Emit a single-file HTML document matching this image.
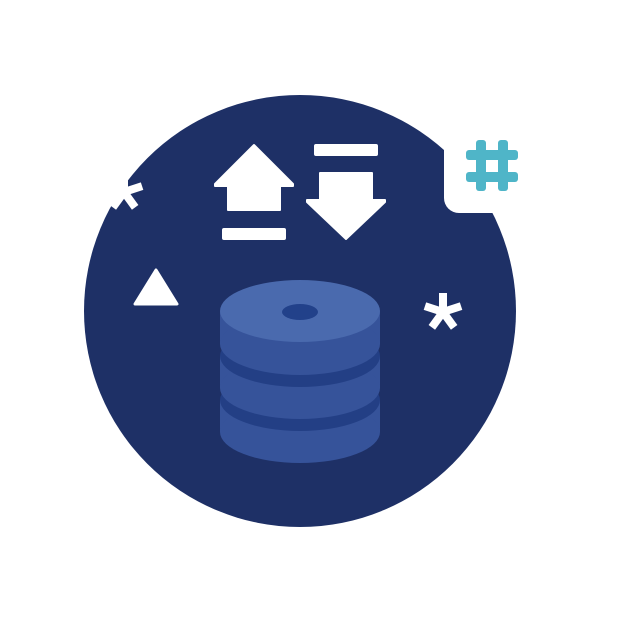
<!DOCTYPE html>
<html><head><style>html,body{margin:0;padding:0;background:#fff}svg{display:block}</style></head>
<body>
<svg width="624" height="624" viewBox="0 0 624 624" xmlns="http://www.w3.org/2000/svg">
<defs>
<g id="ast">
<rect x="-4" y="-19" width="8" height="19"/>
<rect x="-4" y="-19" width="8" height="19" transform="rotate(72)"/>
<rect x="-4" y="-19" width="8" height="19" transform="rotate(144)"/>
<rect x="-4" y="-19" width="8" height="19" transform="rotate(216)"/>
<rect x="-4" y="-19" width="8" height="19" transform="rotate(288)"/>
</g>
</defs>
<circle cx="300" cy="311" r="216" fill="#1e3066"/>
<rect x="444" y="-20" width="200" height="233" rx="15" fill="#fff"/>
<g fill="#4fb5c8">
<rect x="476" y="140" width="10" height="51" rx="3"/>
<rect x="498" y="140" width="10" height="51" rx="3"/>
<rect x="466" y="150" width="52" height="10" rx="3"/>
<rect x="466" y="172" width="52" height="10" rx="3"/>
</g>
<g fill="#fff">
<use href="#ast" transform="translate(124,192)"/>
<use href="#ast" transform="translate(443,312)"/>
<path d="M254 145 L293 184 L293 186 L280 186 L280 210 L228 210 L228 186 L215 186 L215 184 Z" stroke="#fff" stroke-width="2" stroke-linejoin="round"/>
<rect x="222" y="228" width="64" height="12" rx="2"/>
<rect x="314" y="144" width="64" height="12" rx="2"/>
<path d="M320 173 L372 173 L372 200 L385 200 L385 202 L346 239 L307 202 L307 200 L320 200 Z" stroke="#fff" stroke-width="2" stroke-linejoin="round"/>
<path d="M156 270 L177 304 L135 304 Z" stroke="#fff" stroke-width="3" stroke-linejoin="round"/>
</g>
<g>
<rect x="220" y="400" width="160" height="32" fill="#36539a"/>
<ellipse cx="300" cy="432" rx="80" ry="31" fill="#36539a"/>
<ellipse cx="300" cy="400" rx="80" ry="31" fill="#233f85"/>
<rect x="220" y="356" width="160" height="32" fill="#36539a"/>
<ellipse cx="300" cy="388" rx="80" ry="31" fill="#36539a"/>
<ellipse cx="300" cy="356" rx="80" ry="31" fill="#233f85"/>
<rect x="220" y="311" width="160" height="33" fill="#36539a"/>
<ellipse cx="300" cy="344" rx="80" ry="31" fill="#36539a"/>
<ellipse cx="300" cy="311" rx="80" ry="31" fill="#4a6aae"/>
<ellipse cx="300" cy="312" rx="18" ry="8" fill="#22418a"/>
</g>
</svg>
</body></html>
